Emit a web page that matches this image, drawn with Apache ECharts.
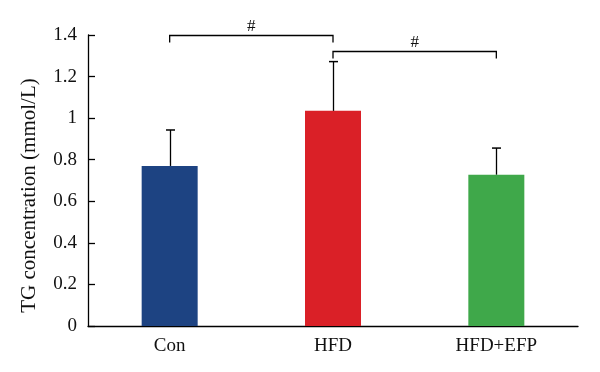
<!DOCTYPE html>
<html><head><meta charset="utf-8">
<script src="https://cdn.jsdelivr.net/npm/echarts@6/dist/echarts.min.js"></script>
<style>html,body{margin:0;padding:0;background:#fff}#c{width:600px;height:372px}</style>
</head><body><div id="c"></div>
<script>
var categories = ['Con', 'HFD', 'HFD+EFP'];
var means = [0.77, 1.035, 0.728];
var errors = [0.173, 0.237, 0.128];
var barColors = ['#1d4382', '#da2027', '#3fa84a'];
var yTicks = [0, 0.2, 0.4, 0.6, 0.8, 1, 1.2, 1.4];
var bracketFrom = [0, 1];
var bracketTo = [1, 2];
var bracketLevel = [1.40, 1.325];
var bracketMark = ['#', '#'];

var font = '"Liberation Serif","DejaVu Serif",serif';
var chart = echarts.init(document.getElementById('c'));
chart.setOption({
  animation: false,
  backgroundColor: '#fff',
  grid: {left: 88, right: 22, top: 35, bottom: 46, containLabel: false},
  xAxis: {
    type: 'category', data: categories, boundaryGap: true,
    axisLine: {lineStyle: {color: '#000', width: 1.3}},
    axisTick: {inside: true, length: 7, lineStyle: {color: '#000', width: 1.3}},
    axisLabel: {color: '#111', fontFamily: font, fontSize: 19, margin: 11},
    splitLine: {show: false}
  },
  yAxis: {
    type: 'value', min: yTicks[0], max: yTicks[yTicks.length - 1], interval: 0.2,
    name: 'TG concentration (mmol/L)', nameLocation: 'middle', nameRotate: 90, nameGap: 48,
    nameTextStyle: {color: '#111', fontFamily: font, fontSize: 21, padding: [0, 30, 0, 0]},
    axisLine: {show: true, lineStyle: {color: '#000', width: 1.3}},
    axisTick: {show: true, inside: true, length: 7, lineStyle: {color: '#000', width: 1.3}},
    axisLabel: {color: '#111', fontFamily: font, fontSize: 19, margin: 11,
      formatter: function (v) { return String(Math.round(v * 10) / 10); }},
    splitLine: {show: false}
  },
  series: [
    {
      type: 'bar', barWidth: 56,
      data: means.map(function (v, i) { return {value: v, itemStyle: {color: barColors[i]}}; }),
      z: 2
    },
    {
      type: 'custom', z: 3,
      data: means.map(function (v, i) { return [i, v, v + errors[i]]; }),
      renderItem: function (params, api) {
        var p0 = api.coord([api.value(0), api.value(1)]);
        var p1 = api.coord([api.value(0), api.value(2)]);
        var x = Math.round(p0[0]) + 0.5;
        return {type: 'group', children: [
          {type: 'line', shape: {x1: x, y1: p0[1], x2: x, y2: p1[1]}, style: {stroke: '#000', lineWidth: 1.3}},
          {type: 'line', shape: {x1: x - 4.5, y1: p1[1], x2: x + 4.5, y2: p1[1]}, style: {stroke: '#000', lineWidth: 1.5}}
        ]};
      }
    },
    {
      type: 'custom', z: 4, clip: false,
      data: bracketFrom.map(function (f, i) { return [f, bracketTo[i], bracketLevel[i]]; }),
      renderItem: function (params, api) {
        var a = api.coord([api.value(0), api.value(2)]);
        var b = api.coord([api.value(1), api.value(2)]);
        var y = Math.round(a[1]) + 0.5;
        return {type: 'group', children: [
          {type: 'polyline', shape: {points: [[a[0], y + 7], [a[0], y], [b[0], y], [b[0], y + 7]]},
           style: {stroke: '#000', lineWidth: 1.3, fill: null}},
          {type: 'text', x: (a[0] + b[0]) / 2, y: y - 9,
           style: {text: bracketMark[params.dataIndex], fill: '#111', font: '17px ' + font,
             textAlign: 'center', textVerticalAlign: 'middle'}}
        ]};
      }
    }
  ]
});
</script></body></html>
